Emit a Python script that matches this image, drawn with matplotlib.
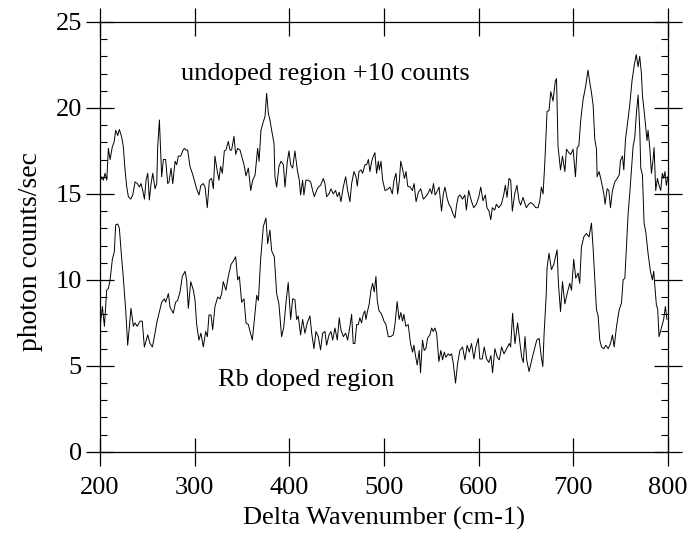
import matplotlib
matplotlib.use("Agg")
import matplotlib.pyplot as plt
from matplotlib.ticker import MultipleLocator

plt.rcParams["font.family"] = ["Liberation Serif", "DejaVu Serif"]

# ----------------------------------------------------------------------------
# Spectra (undoped trace already shifted by +10 counts)
# ----------------------------------------------------------------------------
undoped_x = [200, 201.8, 203.5, 205.3, 207.1, 208.8, 210.6, 213, 214.8, 216.5, 218.7, 220.4, 222.9, 224.6,
             226.4, 228.2, 229.9, 232.4, 234.5, 237, 239.4, 241.6, 243.3, 245.1, 246.9, 248.6, 250.4, 252.1,
             253.9, 255.7, 258.1, 259.9, 260.9, 262.7, 265.1, 266.9, 269.3, 271.5, 272.9, 275, 276.8, 279.3,
             281, 282.7, 285.2, 287.3, 289, 290.9, 292.6, 295, 297.5, 299.6, 302, 304.5, 306.6, 309.1, 310.9,
             313.3, 315.5, 317.9, 319.7, 321.4, 323.9, 325.6, 327.4, 329.2, 331.3, 333, 335.5, 337.3, 339,
             341.5, 343.3, 345.4, 347.9, 349.6, 352.1, 354.2, 356.7, 359.2, 361.3, 363.8, 366.5, 368, 370,
             372.5, 374.3, 376, 377.8, 379.5, 381.3, 383.8, 384.8, 386.6, 389, 391.2, 393.7, 395.4, 397.9,
             399.6, 401.4, 403.5, 405.9, 408.4, 410.5, 411.9, 414, 415.4, 417.5, 420, 422.5, 424.6, 426.4,
             428.8, 430.6, 433, 435.9, 437.6, 439.4, 441.9, 444, 446.4, 448.9, 450.7, 452.7, 454.5, 457,
             459.5, 461.6, 464, 465.8, 468.3, 470.4, 471.8, 473.6, 475.7, 477.5, 479.9, 481.7, 483.5, 485.2,
             487, 488.8, 490.4, 492.2, 494, 495.1, 496.8, 498.6, 501.1, 503.5, 506.3, 508.8, 510.6, 512.7,
             514.5, 516.3, 517.7, 519.8, 521.6, 523.3, 525.1, 527.6, 530, 531.8, 533.9, 536.4, 538.8, 541.6,
             544.1, 546.2, 548.7, 550.5, 552.3, 554, 555.8, 558.2, 560.8, 562.7, 564.4, 566.9, 569, 570.8,
             572.5, 575, 576.7, 578.5, 580.3, 583, 585.5, 587, 589.5, 592.3, 594.8, 597.6, 600.1, 602.2,
             604.6, 607.1, 608.8, 611, 612.8, 614.5, 617, 618.7, 621.2, 624, 626.5, 628.2, 630, 632.1, 633.9,
             635.6, 638.1, 640.5, 642.7, 644.4, 646.9, 648.7, 650.4, 652.9, 655, 657.5, 660.3, 662.8, 664.6,
             666.3, 668.1, 669.9, 672.3, 674.4, 676.2, 678.6, 681.1, 682.3, 683.9, 686.5, 688.6, 691.1,
             692.8, 695.3, 697.4, 699.8, 702.3, 704.1, 705.9, 707.9, 710.4, 713.2, 715.5, 717.4, 719.2, 721,
             722.7, 724.5, 725.2, 727.3, 729.8, 732.3, 733.6, 735.8, 737.6, 739.3, 741.4, 743.9, 746.4,
             748.5, 749.9, 752, 753.4, 755.2, 757.3, 759.7, 762.1, 764.5, 766.5, 768.5, 770.2, 772, 773.1,
             775.5, 777.9, 779, 780.8, 782.6, 784.3, 785.4, 787.1, 788.9, 790.6, 792.4, 794.1, 795.5, 796.9,
             798.3, 800]
undoped_y = [15.7, 16.0, 15.8, 16.2, 15.8, 17.65, 17.0, 17.75, 18.0, 18.7, 18.4, 18.75, 18.3, 17.75,
             16.4, 15.4, 14.84, 14.7, 14.94, 15.7, 15.6, 15.4, 15.6, 15.2, 14.7, 15.8, 16.2, 14.65,
             15.6, 16.2, 15.3, 15.6, 17.75, 19.3, 16.0, 17.0, 17.0, 15.6, 15.7, 16.5, 15.6, 16.9,
             16.7, 17.2, 17.2, 17.5, 17.65, 17.55, 17.55, 16.6, 16.2, 15.8, 15.3, 14.94, 15.5, 15.6, 15.4,
             14.2, 15.8, 15.9, 15.3, 17.2, 16.3, 15.8, 16.6, 16.2, 17.5, 17.55, 18.05, 17.55, 17.55,
             18.35, 17.3, 17.65, 17.55, 17.2, 16.7, 16.05, 16.5, 15.2, 15.8, 16.1, 17.65, 16.9, 18.7,
             19.2, 19.5, 20.85, 19.7, 19.3, 18.7, 17.95, 16.0, 15.4, 16.6, 16.9, 16.7, 15.4, 16.9,
             17.5, 16.7, 16.5, 17.5, 16.4, 15.8, 14.94, 15.8, 14.94, 15.8, 15.8, 15.7, 15.2, 14.84,
             15.2, 15.4, 15.5, 15.9, 15.6, 14.84, 15.0, 15.3, 15.0, 15.2, 14.84, 15.1, 14.55, 15.4,
             16.0, 15.2, 14.55, 15.6, 16.3, 16.0, 15.45, 16.3, 16.4, 16.2, 16.7, 16.7, 17.0, 16.3,
             16.9, 17.2, 17.4, 16.2, 16.9, 16.4, 16.9, 15.8, 15.2, 15.25, 15.4, 15.0, 15.8, 16.2,
             15.0, 15.8, 16.9, 16.4, 15.9, 16.3, 15.45, 15.4, 15.2, 15.6, 14.55, 15.1, 15.3, 14.7,
             14.84, 15.0, 15.3, 15.0, 15.6, 14.94, 15.1, 15.4, 14.0, 15.0, 15.4, 14.7, 14.35, 14.2,
             13.9, 13.6, 14.35, 14.84, 14.94, 14.7, 14.94, 14.06, 15.2, 14.6, 14.2, 14.4, 14.8, 15.4,
             14.6, 14.94, 14.2, 14.0, 13.5, 14.2, 14.06, 14.4, 14.2, 14.4, 14.94, 15.5, 14.8, 15.9, 15.8,
             14.0, 15.0, 15.5, 14.6, 14.35, 14.8, 14.5, 14.2, 14.4, 14.5, 14.4, 14.2, 14.2, 14.6,
             15.4, 15.0, 16.8, 19.8, 19.85, 20.95, 20.4, 21.6, 21.7, 17.75, 16.4, 17.2, 16.3,
             17.6, 17.4, 17.3, 17.6, 16.0, 17.7, 17.8, 19.3, 20.5, 21.3, 22.2, 21.5, 20.9, 20.15,
             18.2, 17.6, 16.0, 16.3, 15.7, 15.0, 14.4, 15.3, 15.2, 14.2, 15.2, 15.7, 15.9,
             16.1, 16.95, 17.2, 16.4, 18.2, 19.1, 20.2, 21.6, 22.5, 23.1, 22.4, 23.0, 22.0, 20.7,
             19.5, 18.1, 18.7, 17.7, 16.2, 17.0, 17.7, 15.2, 15.9, 15.5, 15.2, 16.2, 15.9, 16.3,
             15.5, 16.0]

doped_x = [200, 202.5, 204.6, 207, 208.8, 210.6, 213, 215.1, 216.5, 218.7, 220.4, 222.2, 224.6, 227.1,
           229.2, 232.7, 235.2, 236.9, 239.3, 242.2, 244.6, 246.8, 250.4, 252.8, 255.3, 258.1, 259.9,
           262.3, 265.1, 267.9, 269.3, 272.2, 274, 277.4, 279.8, 281.9, 284.5, 286.9, 289.8, 291.5, 293.3,
           295.8, 298.6, 300.3, 302.1, 304.5, 306.6, 309.1, 311.6, 313.4, 315.1, 317.2, 319, 321.4, 324.3,
           326.8, 328.5, 330.2, 333, 335.5, 338.4, 340.8, 343.3, 345.4, 347.2, 349.6, 352.1, 354.2, 356.7,
           358.5, 360.9, 363.1, 365.5, 367.3, 369.7, 372.5, 375.3, 377.1, 379.5, 381.3, 384.1, 386.6, 389,
           391.8, 394, 396.4, 398.8, 401.4, 403.5, 405.9, 407.7, 409.4, 411.9, 414, 416.5, 418.9, 421.8,
           423.6, 426, 428.1, 430.6, 433, 435.2, 437.6, 439.4, 441.9, 444, 445.8, 448.2, 450.7, 452.7,
           454.5, 457, 459.5, 461.6, 464, 465.8, 467.5, 469.3, 471.1, 472.8, 474.5, 476.3, 478.1, 479.8,
           480.9, 482.7, 484.4, 486.2, 488, 489.7, 491.5, 492.9, 494.7, 496.4, 498.2, 500, 502.1, 504.5,
           507, 509.8, 511.6, 513.9, 516, 517.8, 519.6, 521, 523.1, 525.6, 528, 530.2, 531.6, 533.3,
           535.1, 537.2, 538.6, 540.7, 542.5, 544.3, 546, 548.5, 550.3, 552, 553.8, 555.6, 558, 560.1,
           561.9, 563.7, 565.4, 567.9, 569.7, 571.4, 573.2, 575.6, 577.8, 580.2, 583, 585.5, 587.9,
           590.1, 592.5, 595, 597.1, 599.6, 601.3, 603.8, 605.9, 608.4, 610.9, 613, 614.7, 617.2, 619.7,
           621.8, 624.3, 626.8, 629.6, 632.4, 633.8, 635.9, 638.4, 641.2, 643.7, 645.5, 647.2, 649,
           650.8, 653.3, 656.1, 658.6, 661.4, 663.9, 666, 667.8, 669.2, 671.3, 672.3, 674.4, 676.9,
           679.4, 681.5, 682.9, 684.3, 686.5, 688.6, 691.1, 693.5, 696.3, 698.1, 700.5, 702.6, 705.1,
           706.8, 708.6, 711.1, 713.9, 716.7, 719.2, 721, 722.7, 724.5, 726.3, 728, 729.8, 732.3, 734.4,
           736.9, 739.3, 741.4, 743.2, 745.7, 748.5, 750.9, 752.7, 754.5, 756.2, 758, 759.7, 761.5,
           763.2, 765, 766.7, 768.5, 770.3, 771.3, 773.1, 774.8, 776.6, 779, 781.5, 783.6, 785, 786.1,
           787.8, 789.2, 790.6, 793.1, 795.5, 797.3, 799]
doped_y = [7.3, 8.45, 7.3, 9.4, 9.5, 10.0, 11.2, 11.65, 13.2, 13.25, 13.0, 11.7, 10.1, 8.25,
           6.2, 8.35, 7.3, 7.5, 7.3, 7.6, 7.6, 6.1, 6.8, 6.3, 6.1, 6.9, 7.5,
           8.06, 8.7, 8.9, 8.7, 9.2, 8.4, 8.06, 8.7, 8.8, 9.3, 10.2, 10.5, 10.0, 8.35,
           9.9, 9.4, 8.84, 7.4, 6.5, 6.9, 6.1, 7.0, 6.7, 7.96, 7.96, 7.1, 8.45, 9.0,
           8.9, 9.2, 9.9, 9.4, 10.2, 10.9, 11.1, 11.35, 10.0, 10.2, 8.7, 8.9, 7.5, 7.4,
           7.0, 6.5, 7.7, 9.1, 8.8, 11.2, 13.1, 13.6, 12.1, 12.9, 11.7, 11.35, 9.2, 8.6,
           6.7, 7.2, 8.65, 9.85, 7.7, 8.9, 8.85, 7.7, 7.9, 6.8, 7.7, 6.9, 7.5, 7.9,
           6.9, 6.0, 7.0, 6.7, 5.93, 6.9, 7.0, 6.2, 6.8, 7.0, 6.5, 7.2, 6.5, 7.8,
           7.1, 6.7, 6.9, 6.5, 7.3, 8.0, 6.3, 6.3, 7.4, 7.4, 7.8, 7.5, 8.0, 8.2,
           7.7, 8.2, 8.6, 9.4, 9.8, 9.3, 10.2, 8.8, 8.2, 8.1, 7.9, 7.6, 7.4, 6.7,
           6.7, 6.8, 7.4, 8.74, 7.7, 8.1, 7.6, 8.0, 7.3, 7.4, 6.3, 5.8, 6.2, 5.6,
           5.05, 5.9, 4.6, 6.5, 5.9, 6.0, 6.6, 6.8, 7.2, 7.0, 7.2, 6.9, 5.25, 5.9,
           5.35, 5.8, 5.5, 5.7, 5.6, 5.7, 5.15, 4.0, 5.15, 5.9, 6.1, 5.35, 6.2,
           5.8, 6.3, 5.4, 6.1, 6.6, 5.4, 5.4, 6.1, 5.4, 5.2, 5.6, 4.6, 6.0, 5.5,
           5.35, 6.1, 5.7, 6.0, 6.3, 6.1, 8.06, 6.3, 7.5, 6.3, 5.5, 5.2, 6.7,
           5.35, 4.67, 5.35, 5.9, 6.5, 6.6, 5.6, 4.96, 6.9, 9.0, 10.7, 11.55, 10.6,
           10.9, 11.4, 11.75, 9.8, 8.16, 9.9, 8.6, 9.2, 9.8, 9.4, 11.2, 10.1, 10.4,
           9.8, 11.9, 12.5, 12.7, 12.5, 13.3, 11.8, 10.1, 8.26, 7.9, 6.5, 6.1, 6.0, 6.2,
           6.0, 6.3, 6.8, 6.1, 7.3, 8.26, 8.65, 10.0, 10.1, 11.9, 13.9, 15.04, 16.4,
           17.75, 18.3, 19.7, 20.75, 18.7, 16.5, 16.1, 13.3, 12.8, 11.55, 10.5, 10.0, 10.5, 9.7,
           8.55, 8.3, 6.7, 7.2, 7.7, 8.45, 7.7]

x_ticks = [200, 300, 400, 500, 600, 700, 800]
y_ticks = [0, 5, 10, 15, 20, 25]

FS = 19

fig = plt.figure(figsize=(6.9, 5.36), dpi=100)
ax = fig.add_axes([0.145, 0.157, 0.823, 0.802])

ax.plot(undoped_x, undoped_y, color="black", lw=0.7)
ax.plot(doped_x, doped_y, color="black", lw=0.7)

ax.text(285.5, 22.0, "undoped region +10 counts", fontsize=FS, va="center", ha="left")
ax.text(325, 4.2, "Rb doped region", fontsize=FS, va="center", ha="left")

ax.set_xlim(200, 800)
ax.set_ylim(0, 25)
ax.set_xticks(x_ticks)
ax.set_yticks(y_ticks)
ax.yaxis.set_minor_locator(MultipleLocator(1))
ax.tick_params(which="major", direction="inout", length=20, width=0.9,
               top=True, right=True, labelsize=FS, pad=3)
ax.tick_params(axis="x", which="major", pad=8)
ax.tick_params(axis="y", which="minor", direction="in", length=5, width=0.8, left=True, right=True)
for sp in ax.spines.values():
    sp.set_linewidth(0.9)

ax.set_xlabel("Delta Wavenumber (cm-1)", fontsize=FS, labelpad=6)
ax.set_ylabel("photon counts/sec", fontsize=20, labelpad=11)
ax.yaxis.set_label_coords(-0.1, 0.465)

fig.savefig("out.png", dpi=100)
